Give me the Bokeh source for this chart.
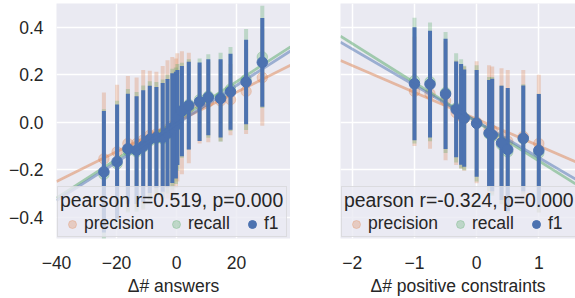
from bokeh.plotting import figure
from bokeh.layouts import row
from bokeh.models import Range1d, FixedTicker, Legend, LegendItem, ColumnDataSource
from bokeh.embed import file_html
from bokeh.resources import INLINE

# ---------------- data: left panel (delta # answers) ----------------
x_ans = [-24.2, -19.8, -16.2, -13.3, -11.1, -8.9, -6.7, -4.6, -3.0, -1.4, -0.2, 0.3,
         1.8, 4.1, 7.7, 10.6, 14.7, 18.0, 23.2, 28.6]
f1_ans = [-0.209, -0.166, -0.112, -0.118, -0.101, -0.072, -0.064, -0.064, -0.046, -0.025,
          -0.012, 0.020, 0.047, 0.070, 0.086, 0.105, 0.100, 0.128, 0.169, 0.252]
f1_ans_err = [0.256, 0.240, 0.232, 0.227, 0.236, 0.226, 0.212, 0.229, 0.228, 0.231,
              0.225, 0.200, 0.190, 0.185, 0.165, 0.160, 0.165, 0.160, 0.178, 0.187]
prec_ans = [-0.154, -0.125, -0.090, -0.090, -0.075, -0.055, -0.050, -0.045, -0.030, -0.015,
            -0.005, 0.020, 0.040, 0.060, 0.075, 0.085, 0.090, 0.095, 0.130, 0.188]
prec_ans_err = [0.279, 0.283, 0.285, 0.278, 0.295, 0.272, 0.262, 0.282, 0.291, 0.290,
                0.273, 0.270, 0.259, 0.233, 0.165, 0.170, 0.170, 0.150, 0.180, 0.203]
rec_ans = [-0.220, -0.175, -0.120, -0.125, -0.105, -0.078, -0.068, -0.070, -0.050, -0.030,
           -0.015, 0.020, 0.050, 0.075, 0.095, 0.110, 0.105, 0.140, 0.180, 0.275]
rec_ans_err = [0.275, 0.265, 0.260, 0.252, 0.260, 0.250, 0.237, 0.250, 0.250, 0.255,
               0.245, 0.225, 0.200, 0.190, 0.173, 0.176, 0.187, 0.177, 0.213, 0.215]
# regression (slope, intercept)
fit_ans = {"precision": (0.00628, 0.001), "recall": (0.00817, 0.007), "f1": (0.00808, -0.007)}
stat_ans = "pearson r=0.519, p=0.000"

# ---------------- data: right panel (delta # positive constraints) ----------------
x_pos = [-1.0, -0.75, -0.5, -0.33, -0.25, -0.2, 0.0, 0.2, 0.25, 0.4, 0.5, 0.75, 1.0]
f1_pos = [0.162, 0.160, 0.119, 0.054, 0.033, 0.017, -0.005, -0.046, -0.054, -0.087,
          -0.115, -0.068, -0.119]
f1_pos_err = [0.238, 0.225, 0.232, 0.202, 0.212, 0.205, 0.225, 0.224, 0.237, 0.241,
              0.259, 0.223, 0.238]
prec_pos = [0.130, 0.120, 0.090, 0.040, 0.025, 0.015, 0.000, -0.030, -0.035, -0.060,
            -0.080, -0.060, -0.090]
prec_pos_err = [0.230, 0.232, 0.250, 0.220, 0.220, 0.220, 0.257, 0.270, 0.270, 0.287,
                0.300, 0.280, 0.290]
rec_pos = [0.175, 0.170, 0.125, 0.060, 0.035, 0.018, -0.005, -0.050, -0.060, -0.095,
           -0.125, -0.070, -0.130]
rec_pos_err = [0.265, 0.250, 0.255, 0.230, 0.230, 0.220, 0.245, 0.240, 0.250, 0.250,
               0.260, 0.230, 0.250]
fit_pos = {"precision": (-0.1127, 0.013), "recall": (-0.1646, 0.0016), "f1": (-0.1526, 0.003)}
stat_pos = "pearson r=-0.324, p=0.000"

# ticks
y_ticks = [-0.4, -0.2, 0.0, 0.2, 0.4]
y_labels = ["\u22120.4", "\u22120.2", "0.0", "0.2", "0.4"]
x_ticks_ans = [-40, -20, 0, 20]
x_labels_ans = ["\u221240", "\u221220", "0", "20"]
x_ticks_pos = [-2, -1, 0, 1]
x_labels_pos = ["\u22122", "\u22121", "0", "1"]
series_names = ["precision", "recall", "f1"]

FONT = "Liberation Sans"
TXT = "#262626"
COL = {"precision": "#DD8452", "recall": "#55A868", "f1": "#4C72B0"}
ALPHA = {"precision": 0.3, "recall": 0.3, "f1": 1.0}
Y0, Y1 = -0.49, 0.5


def panel(x, series, fits, xr, xt, xl, xlabel, title, width, left_border, show_y):
    p = figure(width=width, height=298, x_range=Range1d(*xr), y_range=Range1d(Y0, Y1),
               output_backend="svg", toolbar_location=None,
               min_border_left=left_border, min_border_right=0,
               min_border_top=3, min_border_bottom=0)
    p.background_fill_color = "#EAEAF2"
    p.border_fill_color = "white"
    p.outline_line_color = None

    for ax in (p.xaxis[0], p.yaxis[0]):
        ax.axis_line_color = None
        ax.major_tick_line_color = None
        ax.minor_tick_line_color = None
        ax.major_tick_out = 0
        ax.major_tick_in = 0
        ax.major_label_text_font = FONT
        ax.major_label_text_font_size = "17.5px"
        ax.major_label_text_color = TXT
        ax.axis_label_text_font = FONT
        ax.axis_label_text_font_size = "17.5px"
        ax.axis_label_text_color = TXT
        ax.axis_label_text_font_style = "normal"

    p.xaxis.ticker = FixedTicker(ticks=xt)
    p.xaxis.major_label_overrides = {t: l for t, l in zip(xt, xl)}
    p.xaxis.major_label_standoff = 17
    p.xaxis.axis_label = xlabel
    p.xaxis.axis_label_standoff = 4
    p.yaxis.ticker = FixedTicker(ticks=y_ticks)
    p.yaxis.major_label_overrides = {t: l for t, l in zip(y_ticks, y_labels)}
    p.yaxis.major_label_standoff = 13
    p.xgrid.ticker = FixedTicker(ticks=xt)
    p.ygrid.ticker = FixedTicker(ticks=y_ticks)
    if not show_y:
        p.yaxis.visible = False
    for g in (p.xgrid[0], p.ygrid[0]):
        g.grid_line_color = "white"
        g.grid_line_width = 1.5

    items = []
    for name in series_names:
        mean, err = series[name]
        lo = [m - e for m, e in zip(mean, err)]
        hi = [m + e for m, e in zip(mean, err)]
        src = ColumnDataSource(dict(x=x, y=mean, lo=lo, hi=hi))
        p.segment(x0="x", y0="lo", x1="x", y1="hi", source=src, line_color=COL[name],
                  line_alpha=ALPHA[name], line_width=4)
        r = p.scatter("x", "y", source=src, size=10.5, marker="circle",
                      fill_color=COL[name], line_color=COL[name],
                      fill_alpha=ALPHA[name], line_alpha=ALPHA[name])
        slope, intercept = fits[name]
        xs = list(xr)
        ys = [intercept + slope * v for v in xs]
        p.line(xs, ys, line_color=COL[name], line_alpha=0.5, line_width=2.8)
        items.append(LegendItem(label=name, renderers=[r]))

    leg = Legend(items=items, location="bottom_left", orientation="horizontal", title=title)
    leg.title_text_font = FONT
    leg.title_text_font_size = "19.4px"
    leg.title_text_font_style = "normal"
    leg.title_text_color = TXT
    leg.title_standoff = 1
    leg.label_text_font = FONT
    leg.label_text_font_size = "17.5px"
    leg.label_text_color = TXT
    leg.glyph_width = 24
    leg.glyph_height = 20
    leg.label_height = 20
    leg.label_standoff = 0
    leg.spacing = 10
    leg.padding = 2
    leg.margin = 1
    leg.background_fill_color = "#EAEAF2"
    leg.background_fill_alpha = 0.8
    leg.border_line_color = "#CCCCCC"
    leg.border_line_width = 1
    p.add_layout(leg)
    return p


p1 = panel(x_ans,
           {"precision": (prec_ans, prec_ans_err), "recall": (rec_ans, rec_ans_err),
            "f1": (f1_ans, f1_ans_err)},
           fit_ans, (-40, 38), x_ticks_ans, x_labels_ans, "\u0394# answers", stat_ans,
           290, 56, True)
p2 = panel(x_pos,
           {"precision": (prec_pos, prec_pos_err), "recall": (rec_pos, rec_pos_err),
            "f1": (f1_pos, f1_pos_err)},
           fit_pos, (-2.19, 1.59), x_ticks_pos, x_labels_pos,
           "\u0394# positive constraints", stat_pos, 285, 50, False)

layout = row(p1, p2)
open("out.html", "w").write(file_html(layout, INLINE))
